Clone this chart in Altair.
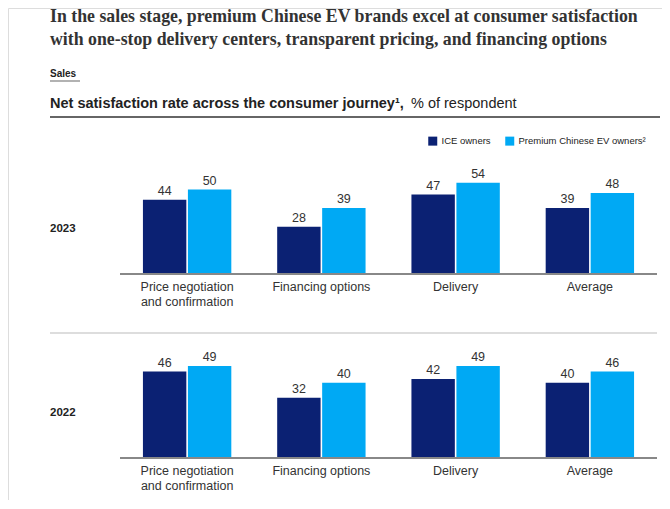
import altair as alt
import pandas as pd

# ---- data ----
categories = ["Price negotiation and confirmation", "Financing options", "Delivery", "Average"]
category_labels = ["Price negotiation\nand confirmation", "Financing options", "Delivery", "Average"]
series = ["ICE owners", "Premium Chinese EV owners\u00b2"]
years = ["2023", "2022"]
ice_2023 = [44, 28, 47, 39]
ev_2023 = [50, 39, 54, 48]
ice_2022 = [46, 32, 42, 40]
ev_2022 = [49, 40, 49, 46]

title_text = ("In the sales stage, premium Chinese EV brands excel at consumer satisfaction\n"
              "with one-stop delivery centers, transparent pricing, and financing options")
section_text = "Sales"
subtitle_bold = "Net satisfaction rate across the consumer journey\u00b9,"
subtitle_regular = "% of respondent"

colors = ["#0b2173", "#00a9f4"]
SANS = "Liberation Sans"
SERIF = "Liberation Serif"


def year_df(ice, ev):
    rows = []
    for i, c in enumerate(categories):
        rows.append({"category": c, "series": series[0], "value": ice[i]})
        rows.append({"category": c, "series": series[1], "value": ev[i]})
    return pd.DataFrame(rows)


labels_df = pd.DataFrame({"category": categories, "label": category_labels})

x_enc = alt.X("category:N", sort=categories,
              scale=alt.Scale(domain=categories, range=[112, 649], paddingInner=0, paddingOuter=0),
              axis=None)
xoff_enc = alt.XOffset("series:N", sort=series,
                       scale=alt.Scale(domain=series, paddingInner=0.035, paddingOuter=0.51))


def panel(df, y_range, label_top, year_label, year_y, show_legend):
    yscale = alt.Scale(domain=[0, 50], range=y_range, nice=False, zero=True)
    color = alt.Color("series:N", sort=series, scale=alt.Scale(domain=series, range=colors),
                      legend=(alt.Legend(orient="none", legendX=420, legendY=128, direction="horizontal",
                                         title=None, symbolType="square", symbolSize=81,
                                         symbolStrokeWidth=0, symbolOpacity=1,
                                         labelFont=SANS, labelFontSize=9.5, labelColor="#222",
                                         labelOffset=4, columnPadding=14)
                              if show_legend else None))
    bars = alt.Chart(df).mark_bar().encode(
        x=x_enc, xOffset=xoff_enc,
        y=alt.Y("value:Q", scale=yscale, axis=None),
        color=color,
    )
    vals = alt.Chart(df).mark_text(dy=-5, baseline="alphabetic", font=SANS, fontSize=12.5,
                                   color="#333").encode(
        x=x_enc, xOffset=xoff_enc,
        y=alt.Y("value:Q", scale=yscale, axis=None),
        text=alt.Text("value:Q"),
    )
    base = alt.Chart(df).mark_rule(color="#888", strokeWidth=1.5).encode(
        x=alt.value(112), x2=alt.value(649),
        y=alt.YDatum(0, type="quantitative", axis=None, scale=yscale),
    )
    cats = alt.Chart(labels_df).mark_text(baseline="top", align="center", lineBreak="\n",
                                          lineHeight=15, font=SANS, fontSize=12.5,
                                          color="#333").encode(
        x=x_enc, y=alt.value(label_top), text=alt.Text("label:N"),
    )
    yr = alt.Chart(pd.DataFrame({"t": [year_label]})).mark_text(
        align="left", baseline="middle", font=SANS, fontSize=11.5, fontWeight="bold",
        color="#222").encode(x=alt.value(42), y=alt.value(year_y), text=alt.Text("t:N"))
    return alt.layer(bars, base, vals, cats, yr)


p23 = panel(year_df(ice_2023, ev_2023), [266, 181.5], 273, years[0], 221, True)
p22 = panel(year_df(ice_2022, ev_2022), [450, 356], 457, years[1], 405, False)


def text_layer(t, x, y, **kw):
    return alt.Chart(pd.DataFrame({"t": [t]})).mark_text(align="left", baseline="alphabetic", **kw).encode(
        x=alt.value(x), y=alt.value(y), text=alt.Text("t:N"))


def hrule(x1, x2, y, **kw):
    return alt.Chart(pd.DataFrame({"a": [0]})).mark_rule(**kw).encode(
        x=alt.value(x1), x2=alt.value(x2), y=alt.value(y))


title = text_layer(title_text, 42, 13.5, font=SERIF, fontSize=17.8, fontWeight="bold",
                   color="#333", lineBreak="\n", lineHeight=23)
section = text_layer(section_text, 42, 69, font=SANS, fontSize=10, fontWeight="bold", color="#222")
section_line = hrule(42, 72, 73, color="#999", strokeWidth=1.5)
sub_b = text_layer(subtitle_bold, 42, 100, font=SANS, fontSize=14.5, fontWeight="bold", color="#222")
sub_r = text_layer(subtitle_regular, 403, 100, font=SANS, fontSize=14.5, color="#222")
top_line = hrule(42, 652, 109, color="#333", strokeWidth=1.5)
sep_line = hrule(42, 649, 325, color="#ddd", strokeWidth=2)

chart = alt.layer(title, section, section_line, sub_b, sub_r, top_line, sep_line, p23, p22).resolve_scale(
    y="independent"
).properties(
    width=654, height=492, padding=0, autosize=alt.AutoSizeParams(type="none")
).configure_view(stroke=None).configure(background="white")

chart.save("out.html", embed_options={"renderer": "svg", "actions": False})
